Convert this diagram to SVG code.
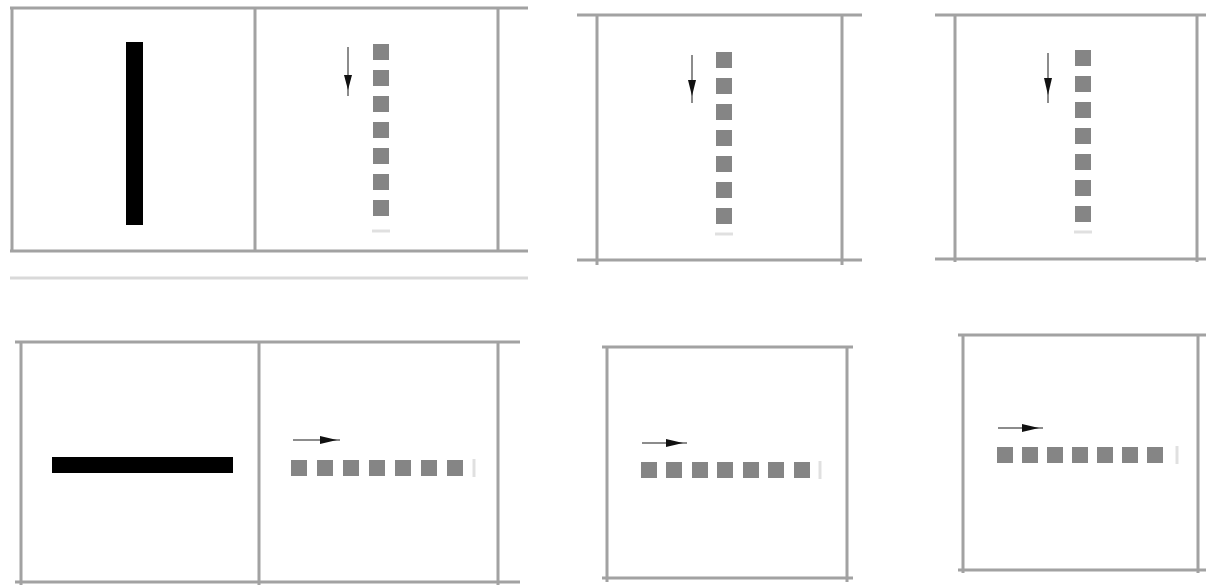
<svg xmlns="http://www.w3.org/2000/svg" width="1206" height="587" viewBox="0 0 1206 587">
<style>
.fr{stroke:#a2a2a2;stroke-width:3;fill:none}
.lt{stroke:#d9d9d9;stroke-width:3;fill:none}
.sq{fill:#858585}
.tk{stroke:#e0e0e0;stroke-width:3}
.sh{stroke:#666;stroke-width:1.5}
.hd{fill:#111}
</style>
<rect width="1206" height="587" fill="#fff"/>
<g id="panel-top-left">
<path class="fr" d="M10 8H528M10 251H528M12 8V251M255 8V251M498 8V251"/>
<path class="lt" d="M10 278H528"/>
<rect x="126" y="42" width="17" height="183" fill="#000"/>
<g class="sq"><rect x="373" y="44" width="16" height="16"/><rect x="373" y="70" width="16" height="16"/><rect x="373" y="96" width="16" height="16"/><rect x="373" y="122" width="16" height="16"/><rect x="373" y="148" width="16" height="16"/><rect x="373" y="174" width="16" height="16"/><rect x="373" y="200" width="16" height="16"/></g>
<line class="tk" x1="372" y1="231" x2="390" y2="231"/>
</g>
<g id="panel-top-middle">
<path class="fr" d="M577 15H862M577 260H862M597 15V265M842 15V265"/>
<g class="sq"><rect x="716" y="52" width="16" height="16"/><rect x="716" y="78" width="16" height="16"/><rect x="716" y="104" width="16" height="16"/><rect x="716" y="130" width="16" height="16"/><rect x="716" y="156" width="16" height="16"/><rect x="716" y="182" width="16" height="16"/><rect x="716" y="208" width="16" height="16"/></g>
<line class="tk" x1="715" y1="234" x2="733" y2="234"/>
</g>
<g id="panel-top-right">
<path class="fr" d="M935 15H1206M935 259H1206M955 15V262M1197 15V262"/>
<g class="sq"><rect x="1075" y="50" width="16" height="16"/><rect x="1075" y="76" width="16" height="16"/><rect x="1075" y="102" width="16" height="16"/><rect x="1075" y="128" width="16" height="16"/><rect x="1075" y="154" width="16" height="16"/><rect x="1075" y="180" width="16" height="16"/><rect x="1075" y="206" width="16" height="16"/></g>
<line class="tk" x1="1074" y1="232" x2="1092" y2="232"/>
</g>
<g id="panel-bottom-left">
<path class="fr" d="M15 342H520M15 582H520M21 342V585M259 342V585M498 342V585"/>
<rect x="52" y="457" width="181" height="16" fill="#000"/>
<g class="sq"><rect x="291" y="460" width="16" height="16"/><rect x="317" y="460" width="16" height="16"/><rect x="343" y="460" width="16" height="16"/><rect x="369" y="460" width="16" height="16"/><rect x="395" y="460" width="16" height="16"/><rect x="421" y="460" width="16" height="16"/><rect x="447" y="460" width="16" height="16"/></g>
<line class="tk" x1="474" y1="459" x2="474" y2="477"/>
</g>
<g id="panel-bottom-middle">
<path class="fr" d="M602 347H853M602 578H853M607 347V582M847 347V582"/>
<g class="sq"><rect x="641" y="462" width="16" height="16"/><rect x="666" y="462" width="16" height="16"/><rect x="692" y="462" width="16" height="16"/><rect x="717" y="462" width="16" height="16"/><rect x="743" y="462" width="16" height="16"/><rect x="768" y="462" width="16" height="16"/><rect x="794" y="462" width="16" height="16"/></g>
<line class="tk" x1="820" y1="461" x2="820" y2="479"/>
</g>
<g id="panel-bottom-right">
<path class="fr" d="M958 335H1206M958 570H1206M963 335V573M1198 335V573"/>
<g class="sq"><rect x="997" y="447" width="16" height="16"/><rect x="1022" y="447" width="16" height="16"/><rect x="1047" y="447" width="16" height="16"/><rect x="1072" y="447" width="16" height="16"/><rect x="1097" y="447" width="16" height="16"/><rect x="1122" y="447" width="16" height="16"/><rect x="1147" y="447" width="16" height="16"/></g>
<line class="tk" x1="1177" y1="446" x2="1177" y2="464"/>
</g>
<g id="connectors">
<line class="sh" x1="348" y1="47" x2="348" y2="96"/><polygon class="hd" points="344,75 352,75 348,90"/>
<line class="sh" x1="692" y1="55" x2="692" y2="103"/><polygon class="hd" points="688,80 696,80 692,96"/>
<line class="sh" x1="1048" y1="53" x2="1048" y2="103"/><polygon class="hd" points="1044,78 1052,78 1048,95"/>
<line class="sh" x1="293" y1="440" x2="340" y2="440"/><polygon class="hd" points="320,436 320,444 337,440"/>
<line class="sh" x1="642" y1="443" x2="687" y2="443"/><polygon class="hd" points="666,439 666,447 683,443"/>
<line class="sh" x1="998" y1="428" x2="1043" y2="428"/><polygon class="hd" points="1022,424 1022,432 1039,428"/>
</g>
</svg>
